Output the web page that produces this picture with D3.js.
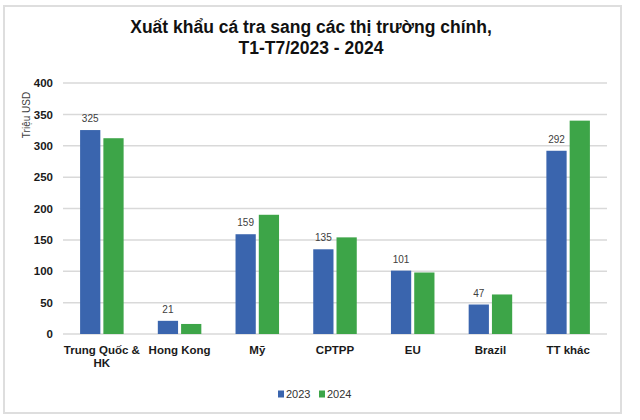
<!DOCTYPE html>
<html>
<head>
<meta charset="utf-8">
<script src="https://cdn.jsdelivr.net/npm/d3@7"></script>
<style>
  body { margin: 0; background: #fff; }
  svg { display: block; font-family: "Liberation Sans", Arial, sans-serif; }
</style>
</head>
<body>
<script>
const [width, height] = [640, 420];
const margin = ({top: 83, right: 33, bottom: 86, left: 63});

const markets = ['Trung Quốc & HK', 'Hong Kong', 'Mỹ', 'CPTPP', 'EU', 'Brazil', 'TT khác'];
const years = ['2023', '2024'];
const values2023 = [325, 21, 159, 135, 101, 47, 292];
const values2024 = [312, 16, 190, 154, 98, 63, 340];
const yTicks = [0, 50, 100, 150, 200, 250, 300, 350, 400];

const colors = ['#3a65ae', '#3da548'];

const svg = d3.select('body').append('svg')
    .attr('width', width)
    .attr('height', height)
    .attr('viewBox', [0, 0, width, height]);

// frame around the picture
svg.append('rect')
    .attr('x', 4).attr('y', 6)
    .attr('width', 617).attr('height', 407)
    .attr('fill', '#fff')
    .attr('stroke', '#dedede')
    .attr('stroke-width', 2);

const x = d3.scaleBand()
    .domain(markets)
    .range([margin.left, width - margin.right])
    .paddingInner(0.44)
    .paddingOuter(0.22);

const x1 = d3.scaleBand()
    .domain(years)
    .range([0, x.bandwidth()])
    .paddingInner(0.13);

const y = d3.scaleLinear()
    .domain([0, 400])
    .range([height - margin.bottom, margin.top]);

// gridlines
svg.append('g')
    .attr('stroke', '#d9d9d9')
    .attr('stroke-width', 1.5)
    .selectAll('line')
    .data(yTicks)
    .join('line')
        .attr('x1', margin.left)
        .attr('x2', width - margin.right)
        .attr('y1', d => y(d))
        .attr('y2', d => y(d));

const yAxis = (g) => g
    .attr('transform', `translate(${margin.left - 8},0)`)
    .call(d3.axisLeft(y).tickValues(yTicks).tickSize(0).tickPadding(2))
    .call(g => g.select('.domain').remove())
    .call(g => g.selectAll('text')
        .attr('font-size', 11.5)
        .attr('font-weight', 'bold')
        .attr('fill', '#1a1a1a'));

svg.append('g').call(yAxis);

svg.append('text')
    .attr('transform', `translate(30,${115}) rotate(-90)`)
    .attr('text-anchor', 'middle')
    .attr('font-size', 10)
    .attr('fill', '#404040')
    .text('Triệu USD');

const rows = markets.map((m, i) => ({market: m, vals: [values2023[i], values2024[i]]}));

const groups = svg.append('g')
    .selectAll('g')
    .data(rows)
    .join('g')
        .attr('transform', d => `translate(${x(d.market)},0)`);

groups.selectAll('rect')
    .data(d => d.vals.map((v, j) => ({year: years[j], v, j})))
    .join('rect')
        .attr('x', d => x1(d.year))
        .attr('y', d => y(d.v))
        .attr('width', x1.bandwidth())
        .attr('height', d => y(0) - y(d.v))
        .attr('fill', d => colors[d.j]);

// value labels on 2023 bars only
groups.append('text')
    .attr('x', x1('2023') + x1.bandwidth() / 2)
    .attr('y', d => y(d.vals[0]) - 8)
    .attr('text-anchor', 'middle')
    .attr('font-size', 10)
    .attr('fill', '#404040')
    .text(d => d.vals[0]);

// category labels
const xLabelLines = {'Trung Quốc & HK': ['Trung Quốc &', 'HK']};
groups.append('text')
    .attr('text-anchor', 'middle')
    .attr('font-size', 11.5)
    .attr('font-weight', 'bold')
    .attr('fill', '#1a1a1a')
    .attr('transform', `translate(${x.bandwidth() / 2},${y(0) + 20})`)
    .selectAll('tspan')
    .data(d => xLabelLines[d.market] || [d.market])
    .join('tspan')
        .attr('x', 0)
        .attr('dy', (d, i) => i === 0 ? 0 : 12.5)
        .text(d => d);

// title
const title = svg.append('text')
    .attr('text-anchor', 'middle')
    .attr('font-size', 17.5)
    .attr('font-weight', 'bold')
    .attr('fill', '#111');
title.append('tspan').attr('x', 311).attr('y', 33).text('Xuất khẩu cá tra sang các thị trường chính,');
title.append('tspan').attr('x', 311).attr('y', 54).text('T1-T7/2023 - 2024');

// legend
const legend = svg.append('g')
    .selectAll('g')
    .data(years)
    .join('g')
        .attr('transform', (d, i) => `translate(${278 + i * 41},394)`);
legend.append('rect')
    .attr('x', 0).attr('y', -3.5)
    .attr('width', 6).attr('height', 7)
    .attr('fill', (d, i) => colors[i]);
legend.append('text')
    .attr('x', 8)
    .attr('dy', '0.35em')
    .attr('font-size', 11)
    .attr('fill', '#333')
    .text(d => d);
</script>
</body>
</html>
